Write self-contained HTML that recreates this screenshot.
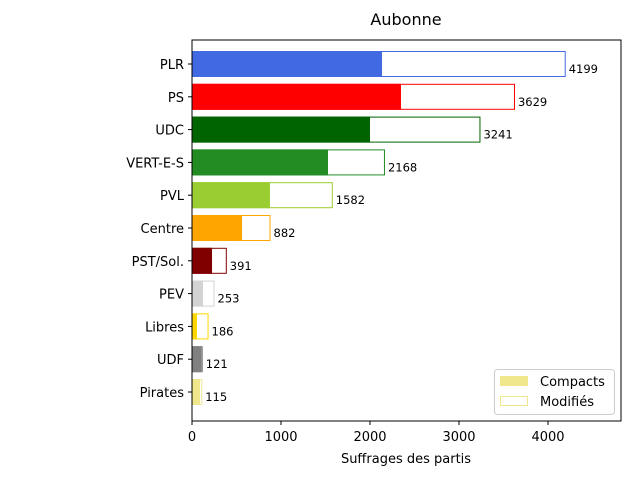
<!DOCTYPE html>
<html><head><meta charset="utf-8"><style>
body{margin:0;background:#fff}
svg text{font-family:"DejaVu Sans","Liberation Sans",sans-serif}
</style></head><body>
<svg id="c" width="640" height="480" xmlns="http://www.w3.org/2000/svg"></svg>
<script>
const parties=["PLR","PS","UDC","VERT-E-S","PVL","Centre","PST/Sol.","PEV","Libres","UDF","Pirates"];
const totals=[4199,3629,3241,2168,1582,882,391,253,186,121,115];
const compacts=[2135,2348,2000,1528,876,562,225,124,56,109,90];
const colors=["royalblue","red","darkgreen","forestgreen","yellowgreen","orange","maroon","lightgray","gold","gray","khaki"];
const xTicks=[0,1000,2000,3000,4000];
const X0=192,X1=621,Y0=40,Y1=421,XMAX=4820;
const sx=v=>X0+(X1-X0)*v/XMAX;
const sy=i=>64+32.8*i;
const NS="http://www.w3.org/2000/svg";
const svg=document.getElementById('c');
function el(t,a,p){const e=document.createElementNS(NS,t);for(const k in a)e.setAttribute(k,a[k]);(p||svg).appendChild(e);return e;}
const title=el('text',{x:406,y:25,'text-anchor':'middle','font-size':16});title.textContent='Aubonne';


parties.forEach((p,i)=>{
  const y=sy(i)-13;
  const m=el('rect',{x:sx(0)+0.5,y:y+0.5,width:sx(totals[i])-sx(0)-1,height:25,fill:'#fff',stroke:colors[i],'stroke-width':1});
  
  
  const c=el('rect',{x:sx(0),y:y,width:sx(compacts[i])-sx(0),height:26,fill:colors[i]});
  
  
  const v=el('text',{x:sx(totals[i])+3,y:sy(i)+9,'font-size':11.5});v.textContent=totals[i];
  
  
  el('line',{x1:X0-4,x2:X0,y1:sy(i),y2:sy(i),stroke:'#000'});
  const l=el('text',{x:X0-8,y:sy(i)+5,'text-anchor':'end','font-size':13});l.textContent=p;
  
  
});
xTicks.forEach(t=>{
  el('line',{x1:sx(t),x2:sx(t),y1:Y1,y2:Y1+4,stroke:'#000'});
  const l=el('text',{x:sx(t),y:Y1+20,'text-anchor':'middle','font-size':13});l.textContent=t;
  
  
});
const fr=el('rect',{x:X0,y:Y0,width:X1-X0,height:Y1-Y0,fill:'none',stroke:'#000','stroke-width':1});


const xl=el('text',{x:406,y:463,'text-anchor':'middle','font-size':13});xl.textContent='Suffrages des partis';


const lg=el('g',{});


el('rect',{x:494.5,y:369.5,width:120,height:45,rx:3,fill:'#fff',stroke:'#ccc'},lg);
el('rect',{x:500,y:376,width:28,height:10,fill:'khaki'},lg);
el('rect',{x:500.5,y:396.5,width:27,height:9,fill:'#fff',stroke:'khaki'},lg);
const t1=el('text',{x:540,y:386,'font-size':13},lg);t1.textContent='Compacts';
const t2=el('text',{x:540,y:406,'font-size':13},lg);t2.textContent='Modifiés';
</script>
</body></html>
